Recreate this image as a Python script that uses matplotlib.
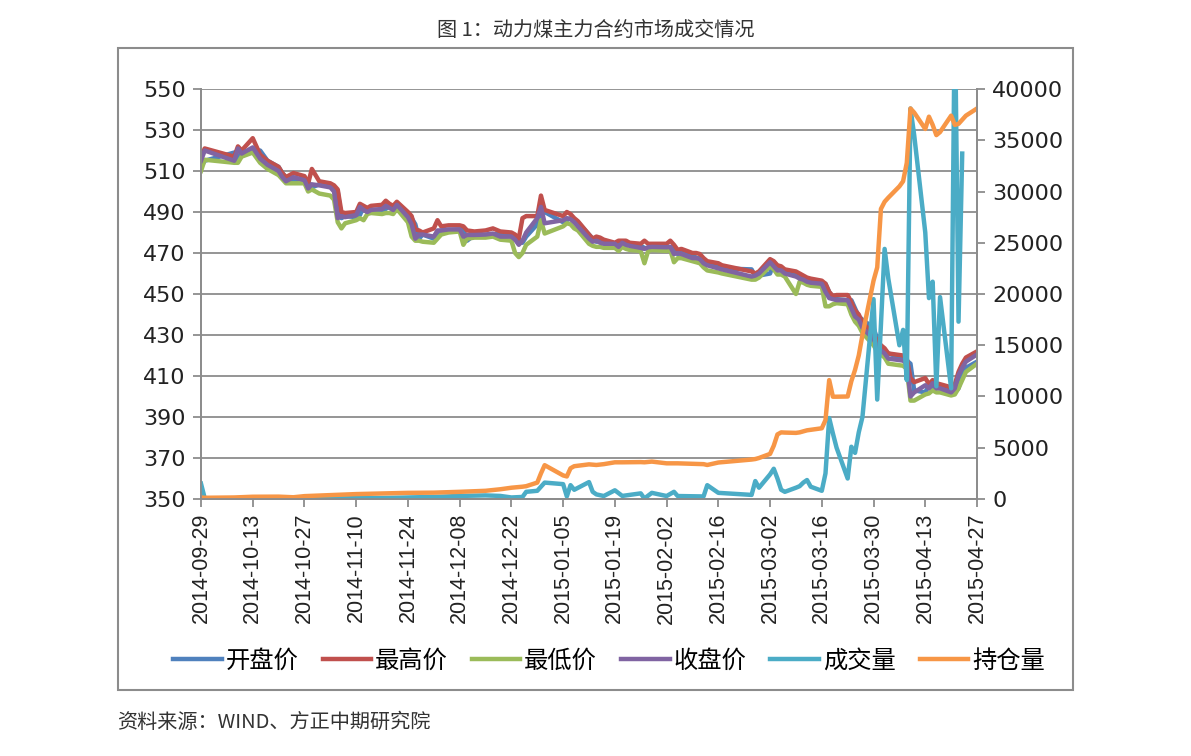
import numpy as np
import pandas as pd
import matplotlib
matplotlib.use("Agg")
import matplotlib.pyplot as plt
import matplotlib.dates as mdates
from matplotlib.patches import Rectangle

# ---- 价格数据（开盘/最高/最低/收盘） ----
price_dates = [
    "2014-09-29", "2014-09-30", "2014-10-08", "2014-10-09", "2014-10-10",
    "2014-10-13", "2014-10-15", "2014-10-17", "2014-10-20", "2014-10-21",
    "2014-10-22", "2014-10-24", "2014-10-27", "2014-10-28", "2014-10-29",
    "2014-10-31", "2014-11-03", "2014-11-04", "2014-11-05", "2014-11-06",
    "2014-11-07", "2014-11-10", "2014-11-11", "2014-11-12", "2014-11-13",
    "2014-11-14", "2014-11-17", "2014-11-18", "2014-11-19", "2014-11-20",
    "2014-11-21", "2014-11-24", "2014-11-25", "2014-11-26", "2014-11-27",
    "2014-11-28", "2014-12-01", "2014-12-02", "2014-12-03", "2014-12-05",
    "2014-12-08", "2014-12-09", "2014-12-10", "2014-12-12", "2014-12-15",
    "2014-12-17", "2014-12-19", "2014-12-22", "2014-12-23", "2014-12-24",
    "2014-12-25", "2014-12-26", "2014-12-29", "2014-12-30", "2014-12-31",
    "2015-01-05", "2015-01-06", "2015-01-07", "2015-01-08", "2015-01-09",
    "2015-01-12", "2015-01-13", "2015-01-14", "2015-01-15", "2015-01-16",
    "2015-01-19", "2015-01-20", "2015-01-21", "2015-01-22", "2015-01-23",
    "2015-01-26", "2015-01-27", "2015-01-28", "2015-01-29", "2015-02-02",
    "2015-02-03", "2015-02-04", "2015-02-05", "2015-02-06", "2015-02-09",
    "2015-02-10", "2015-02-11", "2015-02-12", "2015-02-13", "2015-02-16",
    "2015-02-17", "2015-02-25", "2015-02-26", "2015-02-27", "2015-03-02",
    "2015-03-03", "2015-03-04", "2015-03-05", "2015-03-06", "2015-03-09",
    "2015-03-10", "2015-03-11", "2015-03-12", "2015-03-13", "2015-03-16",
    "2015-03-17", "2015-03-18", "2015-03-19", "2015-03-20", "2015-03-23",
    "2015-03-24", "2015-03-25", "2015-03-26", "2015-03-27", "2015-03-30",
    "2015-03-31", "2015-04-01", "2015-04-02", "2015-04-03", "2015-04-07",
    "2015-04-08", "2015-04-09", "2015-04-10", "2015-04-13", "2015-04-14",
    "2015-04-15", "2015-04-16", "2015-04-17", "2015-04-20", "2015-04-21",
    "2015-04-22", "2015-04-23", "2015-04-24", "2015-04-27",
]

open_px = [
    512, 515, 519, 515, 520, 519, 520, 515, 512, 509,
    507, 505, 507, 505, 502, 503.5, 503, 502, 500, 487,
    488, 487.5, 488.5, 492.5, 491, 490, 491, 491.5, 493, 492,
    491, 489, 487, 484, 477, 479, 477, 478, 481, 481,
    481.5, 481.5, 476, 478.8, 478.8, 479, 479.5, 478, 478, 476,
    475, 478, 484, 490, 490, 485, 486, 487, 486.5, 485,
    479, 477, 475.5, 476, 475, 474.5, 474.5, 473, 475, 474,
    473.5, 472.5, 472, 472.8, 473, 472.8, 473, 469.5, 470, 469.5,
    467.5, 467.5, 467, 465, 464, 462.5, 462, 458.5, 459, 460,
    465.5, 463.5, 461.5, 461.5, 460, 458.5, 457.5, 457, 456, 455.5,
    455, 451, 448, 447.5, 447, 447, 443, 439, 437.5, 433.5,
    428, 424.5, 422.5, 421, 418.5, 417.5, 416, 403, 402, 405.5,
    404, 406.5, 404, 404, 402, 404, 410.5, 414, 417,
]
high_px = [
    517, 521, 517, 522, 520, 526, 518, 515, 512, 509,
    507, 509, 507.5, 504, 511, 505, 504, 503, 501, 490,
    489.5, 490, 494, 493, 492, 493, 493.5, 495.5, 494, 493,
    495, 490, 488, 481.5, 481, 480, 482, 486, 483, 483.5,
    483.5, 483, 481, 480.5, 481, 482, 480.5, 480, 479, 477,
    487, 488, 488, 498, 491, 488, 490, 489, 487, 485.5,
    479, 477, 478, 477.5, 476.5, 475, 476, 476, 476, 475,
    474.5, 476, 474.5, 474.5, 474.5, 476, 474, 471.5, 472, 470,
    470, 469.5, 467.5, 466, 465, 464, 461, 460, 461, 467,
    466, 464, 463.5, 462, 461, 460, 459, 458, 457.5, 456.5,
    455, 451, 449, 449.5, 449.5, 446, 442, 440, 436, 430.5,
    427, 425, 423.5, 421, 420, 418.5, 409, 407, 409, 406,
    408, 406.5, 406, 404.5, 406, 412, 416, 419, 422,
]
low_px = [
    510, 515.5, 514, 514, 517, 519, 514, 511, 508, 506,
    504, 504, 504, 500, 501, 499, 498, 496, 485, 482,
    484.5, 486, 487, 486, 489, 489.5, 489, 489.5, 489.5, 489,
    491.5, 485, 478, 476, 476, 475.5, 475, 477, 479, 480,
    480.5, 474, 477, 477.5, 477.5, 478, 476.5, 476, 470, 468,
    470, 474, 478, 486, 479.5, 483, 484.5, 484, 482, 481,
    474.5, 473.5, 473, 473, 472.5, 472.5, 471, 473, 472, 471.5,
    471, 465, 471, 471.5, 471, 471.5, 465.5, 467.5, 467.5, 466,
    465.5, 465, 463, 461.5, 460.5, 460, 457, 457, 458, 463.5,
    462, 459.5, 459.5, 458.5, 450, 456, 455.5, 454.5, 454, 453.5,
    444, 444, 445, 445.5, 445, 440, 436.5, 434.5, 431, 425,
    422, 420.5, 419, 416, 415, 413.5, 398, 398, 401, 401.5,
    403, 402, 402, 400.5, 401, 404, 408, 412, 416,
]
close_px = [
    515, 520, 515, 521, 518.5, 521.5, 516, 513, 510, 507,
    505, 507, 505.5, 501.5, 503.5, 503, 502, 500, 487, 488,
    487.5, 488.5, 492.5, 491, 490, 491, 491.5, 493, 492, 491,
    493.5, 487.5, 484, 477, 479, 479, 478, 481, 481, 481.5,
    481.5, 478, 478.8, 478.8, 479, 479.5, 478, 478, 476.5, 474,
    476, 480, 487, 492.5, 484.5, 486, 487, 486.5, 485, 483,
    477, 475.5, 476, 475, 474.5, 474.5, 473, 475, 474, 473.5,
    472.5, 472, 472.8, 473, 472.8, 473, 469.5, 470, 469.5, 467.5,
    467.5, 467, 465, 464, 462.5, 462, 458.5, 459, 460, 465.5,
    463.5, 461.5, 461.5, 460, 458.5, 457.5, 457, 456, 455.5, 455,
    451, 448, 447.5, 447, 447, 443, 439, 437.5, 433.5, 428,
    424.5, 422.5, 421, 418.5, 417.5, 416, 400, 402, 405.5, 404,
    406.5, 404, 404, 402, 404, 410.5, 414, 417, 420.5,
]

# ---- 成交量 / 持仓量 ----
vol_dates = [
    "2014-09-29", "2014-09-30", "2014-10-08", "2014-10-13", "2014-10-20",
    "2014-10-24", "2014-10-27", "2014-11-03", "2014-11-10", "2014-11-17",
    "2014-11-24", "2014-12-01", "2014-12-08", "2014-12-15", "2014-12-19",
    "2014-12-22", "2014-12-25", "2014-12-26", "2014-12-29", "2014-12-30",
    "2014-12-31", "2015-01-05", "2015-01-06", "2015-01-07", "2015-01-08",
    "2015-01-12", "2015-01-13", "2015-01-14", "2015-01-16", "2015-01-19",
    "2015-01-21", "2015-01-26", "2015-01-27", "2015-01-29", "2015-02-02",
    "2015-02-04", "2015-02-05", "2015-02-12", "2015-02-13", "2015-02-16",
    "2015-02-25", "2015-02-26", "2015-02-27", "2015-03-02", "2015-03-03",
    "2015-03-04", "2015-03-05", "2015-03-06", "2015-03-09", "2015-03-10",
    "2015-03-11", "2015-03-12", "2015-03-13", "2015-03-16", "2015-03-17",
    "2015-03-18", "2015-03-19", "2015-03-20", "2015-03-23", "2015-03-24",
    "2015-03-25", "2015-03-26", "2015-03-27", "2015-03-30", "2015-03-31",
    "2015-04-01", "2015-04-02", "2015-04-03", "2015-04-06", "2015-04-07",
    "2015-04-08", "2015-04-09", "2015-04-10", "2015-04-13", "2015-04-14",
    "2015-04-15", "2015-04-16", "2015-04-17", "2015-04-20", "2015-04-21",
    "2015-04-22", "2015-04-23", "2015-04-24", "2015-04-27",
]
volume = [
    1500, 80, 50, 60, 40, 30, 40, 50, 80, 100,
    150, 200, 300, 350, 300, 150, 200, 700, 800, 1200,
    1600, 1450, 250, 1350, 900, 1650, 700, 450, 290, 850,
    300, 550, 50, 600, 290, 700, 290, 250, 1350, 600,
    400, 1750, 1100, 2400, 2950, 2000, 900, 700, 1100, 1250,
    1600, 1850, 1200, 800, 2500, 7900, 6400, 5000, 2000, 5100,
    4500, 6500, 8000, 19500, 9700, 17000, 24400, 21500, 15000, 16500,
    11600, 38100, 35500, 26000, 19600, 21200, 11000, 19700, 10800, 48000,
    17300, 33700, None, None,
]
open_interest = [
    150, 120, 150, 220, 230, 170, 280, 380, 480, 540,
    600, 620, 700, 800, 950, 1100, 1200, 1250, 1600, 2500,
    3300, 2300, 2200, 3000, 3200, 3380, 3350, 3320, 3400, 3580,
    3580, 3600, 3580, 3650, 3480, 3480, 3480, 3400, 3320, 3560,
    3850, 3900, 4000, 4400, 5200, 6300, 6500, 6480, 6450, 6500,
    6600, 6700, 6750, 6900, 7700, 11600, 9980, 9980, 10000, 11500,
    12600, 14000, 16000, 21300, 22600, 28300, 29000, 29400, 30500, 31000,
    32800, 38100, 37700, 36100, 37300, 36500, 35500, 35800, 37400, 36500,
    36600, 37000, 37400, 38100,
]

series_names = ["开盘价", "最高价", "最低价", "收盘价", "成交量", "持仓量"]
colors = ["#4F81BD", "#C0504D", "#9BBB59", "#8064A2", "#4BACC6", "#F79646"]

W, H = 1191, 756
GRAY = "#8c8c8c"
CJK = ["Noto Sans CJK SC", "DejaVu Sans"]


def fx(px):
    return px / W


def fy(py):
    return 1 - py / H


pd_dates = pd.to_datetime(price_dates)
vd = pd.to_datetime(vol_dates)
vol_arr = np.array([np.nan if v is None else v for v in volume], dtype=float)

fig = plt.figure(figsize=(W / 100, H / 100), dpi=100)
ax = fig.add_axes([fx(201), fy(499), fx(977) - fx(201), (499 - 89) / H])
ax2 = ax.twinx()

lw = 3.2
price_series = [open_px, high_px, low_px, close_px]
handles = []
for vals, name, c in zip(price_series, series_names[:4], colors[:4]):
    h, = ax.plot(pd_dates, vals, color=c, lw=lw, label=name, solid_joinstyle="round")
    handles.append(h)

h, = ax2.plot(vd, vol_arr, color=colors[4], lw=lw, label=series_names[4], solid_joinstyle="round")
handles.append(h)
h, = ax2.plot(vd, open_interest, color=colors[5], lw=lw, label=series_names[5], solid_joinstyle="round")
handles.append(h)

ax.set_ylim(350, 550)
ax.set_yticks(range(350, 551, 20))
ax2.set_ylim(0, 40000)
ax2.set_yticks(range(0, 40001, 5000))

xt = pd.date_range("2014-09-29", "2015-04-27", freq="14D")
ax.set_xlim(xt[0], xt[-1])
ax.set_xticks(xt)
ax.xaxis.set_major_formatter(mdates.DateFormatter("%Y-%m-%d"))

ax.yaxis.grid(True, color=GRAY, lw=1.3)
ax.set_axisbelow(True)

for a in (ax, ax2):
    for s in a.spines.values():
        s.set_color(GRAY)
        s.set_linewidth(1.3)
    a.spines["top"].set_visible(False)

ax.tick_params(axis="y", direction="out", length=6, width=1.3, color=GRAY,
               labelsize=16, pad=5, labelcolor="#222222")
ax.tick_params(axis="x", direction="out", length=6, width=1.3, color=GRAY,
               labelsize=15.5, pad=4, labelcolor="#222222", labelrotation=90)
ax2.tick_params(axis="y", direction="out", length=6, width=1.3, color=GRAY,
                labelsize=16, pad=5, labelcolor="#222222")
for lab in ax.get_yticklabels() + ax2.get_yticklabels():
    lab.set_fontfamily("DejaVu Sans")
for lab in ax.get_xticklabels():
    lab.set_fontfamily("Liberation Sans")

fig.legend(handles=handles, labels=series_names, loc="center", ncol=6,
           bbox_to_anchor=(fx(609), fy(661)), frameon=False,
           prop={"family": CJK, "size": 17.5}, handlelength=2.0,
           handletextpad=0.15, columnspacing=1.0)

fig.text(fx(596), fy(31), "图 1：动力煤主力合约市场成交情况", ha="center", va="center",
         fontsize=14.5, family=CJK, color="#333333")
fig.text(fx(117), fy(722), "资料来源：WIND、方正中期研究院", ha="left", va="center",
         fontsize=14.5, family=CJK, color="#333333")

fig.patches.append(Rectangle((fx(118), fy(690)), fx(1073) - fx(118), (690 - 48) / H,
                             transform=fig.transFigure, fill=False,
                             edgecolor=GRAY, lw=1.5))

fig.savefig("out.png", dpi=100)
